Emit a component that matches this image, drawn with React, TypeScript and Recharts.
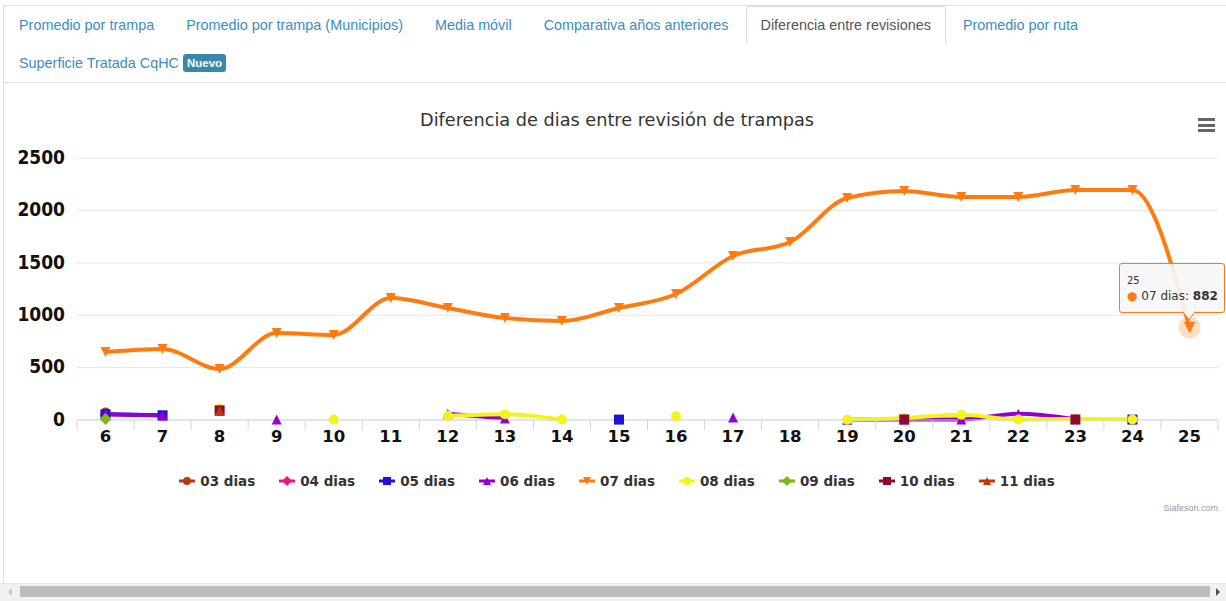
import React from 'react';
import { LineChart, Line, XAxis, YAxis, CartesianGrid, Tooltip } from 'recharts';

// Categories (day numbers on the x axis)
const categories = ['6', '7', '8', '9', '10', '11', '12', '13', '14', '15', '16', '17', '18', '19', '20', '21', '22', '23', '24', '25'];

const seriesNames = ['03 dias', '04 dias', '05 dias', '06 dias', '07 dias', '08 dias', '09 dias', '10 dias', '11 dias'];
const seriesColors = ['#b83a10', '#e8178a', '#2010d8', '#9400d3', '#ff7b0f', '#f4f41a', '#7fb41a', '#8b0a2e', '#c0390b'];
const seriesShapes = ['circle', 'diamond', 'square', 'triangle', 'triangle-down', 'circle', 'diamond', 'square', 'triangle'];

// Values per series (null = no point that day)
const dias03 = [72, null, null, null, null, null, null, null, null, null, null, null, null, null, null, null, null, null, null, null];
const dias04 = [48, null, null, null, null, null, null, null, null, null, null, null, null, null, null, null, null, null, null, null];
const dias05 = [55, 45, null, null, null, null, null, null, null, 4, null, null, null, null, null, null, null, null, 4, null];
const dias06 = [55, 42, null, 5, null, null, 60, 15, null, null, null, 25, null, 3, 5, 5, 60, 8, null, null];
const dias07 = [649, 677, 487, 830, 811, 1164, 1069, 973, 945, 1069, 1202, 1565, 1698, 2118, 2185, 2128, 2128, 2195, 2195, 882];
const dias08 = [null, null, 110, null, 4, null, 40, 55, 4, null, 35, null, null, 3, 20, 50, 4, 10, 5, null];
const dias09 = [10, null, null, null, null, null, null, null, null, null, null, null, null, null, null, null, null, null, null, null];
const dias10 = [null, null, 92, null, null, null, null, null, null, null, null, null, null, null, 5, null, null, 5, null, null];
const dias11 = [null, null, 85, null, null, null, null, null, null, null, null, null, null, null, null, null, null, null, null, null];

const seriesValues = [dias03, dias04, dias05, dias06, dias07, dias08, dias09, dias10, dias11];
const yTicks = [0, 500, 1000, 1500, 2000, 2500];

const tabs = ['Promedio por trampa', 'Promedio por trampa (Municipios)', 'Media móvil', 'Comparativa años anteriores', 'Diferencia entre revisiones', 'Promedio por ruta', 'Superficie Tratada CqHC'];
const activeTab = 4;

const data = categories.map((day, i) => {
    const row: any = { day };
    seriesNames.forEach((name, s) => {
        row[name] = seriesValues[s][i];
    });
    return row;
});

// layout
const CHART_W = 1226;
const CHART_H = 440;
const PLOT_LEFT = 77;
const PLOT_RIGHT = 1218;
const X_PAD = 28.5;
const STEP = (PLOT_RIGHT - PLOT_LEFT - 2 * X_PAD) / (categories.length - 1);
const TICK_SIZE = 10;
const TICK_MARGIN = 4;

const FONT = "'DejaVu Sans', Verdana, sans-serif";

const Marker = ({ shape, cx, cy, r, color }: any) => {
    switch (shape) {
        case 'circle':
            return <circle cx={cx} cy={cy} r={r} fill={color} />;
        case 'square':
            return <rect x={cx - r} y={cy - r} width={2 * r} height={2 * r} fill={color} />;
        case 'diamond':
            return <path d={`M${cx} ${cy - r - 1}L${cx + r + 1} ${cy}L${cx} ${cy + r + 1}L${cx - r - 1} ${cy}Z`} fill={color} />;
        case 'triangle':
            return <path d={`M${cx} ${cy - r}L${cx + r} ${cy + r}L${cx - r} ${cy + r}Z`} fill={color} />;
        default:
            return <path d={`M${cx - r} ${cy - r}L${cx + r} ${cy - r}L${cx} ${cy + r}Z`} fill={color} />;
    }
};

const dotFor = (s: number) => (p: any) => {
    const key = `dot-${s}-${p.index}`;
    if (p.value == null || p.cx == null || p.cy == null || isNaN(p.cy)) return <g key={key} />;
    return (
        <g key={key}>
            <Marker shape={seriesShapes[s]} cx={p.cx} cy={p.cy} r={5} color={seriesColors[s]} />
        </g>
    );
};

const activeDotFor = (s: number) => (p: any) => {
    if (p.value == null || p.cy == null || isNaN(p.cy)) return <g />;
    return (
        <g>
            <circle cx={p.cx} cy={p.cy} r={11} fill={seriesColors[s]} fillOpacity={0.25} />
            <Marker shape={seriesShapes[s]} cx={p.cx} cy={p.cy} r={5.5} color={seriesColors[s]} />
        </g>
    );
};

const XTick = (props: any) => {
    const { x, y, payload, index } = props;
    const axisY = y - TICK_SIZE - TICK_MARGIN;
    const last = index === categories.length - 1;
    return (
        <g>
            <line x1={x - STEP / 2} x2={x - STEP / 2} y1={axisY} y2={axisY + TICK_SIZE} stroke="#ccd6eb" />
            {last && <line x1={x + STEP / 2} x2={x + STEP / 2} y1={axisY} y2={axisY + TICK_SIZE} stroke="#ccd6eb" />}
            <text x={x} y={axisY + 22} textAnchor="middle" fontFamily={FONT} fontWeight="bold" fontSize={16.5} fill="#111">
                {payload.value}
            </text>
        </g>
    );
};

const YTick = (props: any) => {
    const { x, y, payload } = props;
    return (
        <text x={x} y={y} dy="0.3em" textAnchor="end" fontFamily="'DejaVu Sans Condensed', 'DejaVu Sans', sans-serif" fontWeight="bold" fontSize={19} fill="#111">
            {payload.value}
        </text>
    );
};

const TipBox = ({ active, payload, label }: any) => {
    if (!active || !payload) return null;
    const items = payload.filter((p: any) => p.value != null);
    if (!items.length) return null;
    const c = items[0].color;
    return (
        <div style={{ position: 'relative', width: 104, height: 48, border: `1px solid ${c}`, borderRadius: 3, background: 'rgba(247,247,247,0.9)', fontFamily: FONT, color: '#333', boxSizing: 'content-box' }}>
            <div style={{ position: 'absolute', left: 7, top: 11, fontSize: 10 }}>{label}</div>
            {items.map((it: any) => (
                <div key={it.name} style={{ position: 'absolute', left: 7, top: 25, fontSize: 12, whiteSpace: 'nowrap' }}>
                    <span style={{ color: it.color }}>●</span> {it.name}: <b>{it.value}</b>
                </div>
            ))}
            <svg width={14} height={10} style={{ position: 'absolute', left: 62, top: 47, overflow: 'visible' }}>
                <path d="M0.5 0.5 L7 8.5 L13.5 0.5" fill="rgb(247,247,247)" stroke={c} />
            </svg>
        </div>
    );
};

const LegendBar = () => (
    <div style={{ position: 'absolute', top: 472, left: 4, width: CHART_W, display: 'flex', justifyContent: 'center', gap: 24, fontFamily: FONT, fontWeight: 'bold', fontSize: 13.5, color: '#333' }}>
        {seriesNames.map((n, s) => (
            <div key={n} style={{ display: 'flex', alignItems: 'center', height: 18 }}>
                <svg width={16} height={12} style={{ marginRight: 5 }}>
                    <line x1={0} x2={16} y1={6} y2={6} stroke={seriesColors[s]} strokeWidth={3} />
                    <Marker shape={seriesShapes[s]} cx={8} cy={6} r={4} color={seriesColors[s]} />
                </svg>
                <span>{n}</span>
            </div>
        ))}
    </div>
);

const App = () => {
    return (
        <div style={{ position: 'relative', width: 1226, height: 601, background: '#fff', overflow: 'hidden' }}>
            <style>{'body{margin:0;overflow:hidden}'}</style>

            {/* outer frame + tabs */}
            <div style={{ position: 'absolute', left: 3, top: 5, width: 1223, height: 578, borderTop: '1px solid #ddd', borderLeft: '1px solid #ddd' }}>
                <ul style={{ listStyle: 'none', margin: 0, padding: 0, display: 'flex', flexWrap: 'wrap', borderBottom: '1px solid #ddd', fontFamily: "'Liberation Sans', Arial, sans-serif", fontSize: 14.4 }}>
                    {tabs.map((t, i) => (
                        <li key={t} style={{ marginRight: 2 }}>
                            <a
                                style={{
                                    display: 'flex',
                                    alignItems: 'center',
                                    padding: '8px 14px',
                                    lineHeight: '20px',
                                    border: '1px solid transparent',
                                    borderColor: i === activeTab ? '#ddd #ddd transparent' : 'transparent',
                                    borderRadius: '4px 4px 0 0',
                                    color: i === activeTab ? '#555' : '#3c8dbc',
                                    background: '#fff',
                                    textDecoration: 'none',
                                }}
                            >
                                {t}
                                {i === tabs.length - 1 && (
                                    <span style={{ marginLeft: 4, background: '#3a87ad', color: '#fff', fontWeight: 'bold', fontSize: 11.5, lineHeight: '14px', padding: '2px 4px', borderRadius: 3 }}>Nuevo</span>
                                )}
                            </a>
                        </li>
                    ))}
                </ul>
            </div>

            {/* title, menu, credits */}
            <div style={{ position: 'absolute', top: 110, left: 0, width: 1234, textAlign: 'center', fontFamily: FONT, fontSize: 17.7, color: '#333' }}>
                Diferencia de dias entre revisión de trampas
            </div>
            <div style={{ position: 'absolute', left: 1198, top: 118 }}>
                {[0, 1, 2].map((k) => (
                    <div key={k} style={{ width: 17, height: 3, background: '#666', marginBottom: 2.5 }} />
                ))}
            </div>
            <div style={{ position: 'absolute', right: 8, top: 503, fontFamily: "'Liberation Sans', Arial, sans-serif", fontSize: 9, color: '#999' }}>Siafeson.com</div>

            <div style={{ position: 'absolute', left: 0, top: 83 }}>
                <LineChart width={CHART_W} height={CHART_H} data={data} margin={{ top: 75, right: CHART_W - PLOT_RIGHT, bottom: 73, left: 0 }}>
                    <CartesianGrid vertical={false} stroke="#e6e6e6" />
                    <XAxis
                        dataKey="day"
                        height={30}
                        padding={{ left: X_PAD, right: X_PAD }}
                        interval={0}
                        axisLine={{ stroke: '#ccd6eb' }}
                        tickLine={false}
                        tickSize={TICK_SIZE}
                        tickMargin={TICK_MARGIN}
                        tick={<XTick />}
                    />
                    <YAxis
                        width={PLOT_LEFT}
                        domain={[0, 2500]}
                        ticks={yTicks}
                        axisLine={false}
                        tickLine={false}
                        tickMargin={6}
                        tick={<YTick />}
                    />
                    <Tooltip
                        defaultIndex={19}
                        cursor={false}
                        position={{ x: 1119, y: 180 }}
                        isAnimationActive={false}
                        content={<TipBox />}
                        wrapperStyle={{ outline: 'none', zIndex: 5 }}
                    />
                    {seriesNames.map((n, s) => (
                        <Line
                            key={n}
                            type="monotone"
                            dataKey={n}
                            name={n}
                            stroke={seriesColors[s]}
                            strokeWidth={4}
                            dot={dotFor(s)}
                            activeDot={n === '07 dias' ? activeDotFor(s) : false}
                            isAnimationActive={false}
                        />
                    ))}
                </LineChart>
            </div>

            <LegendBar />

            {/* bottom scrollbar */}
            <div style={{ position: 'absolute', left: 0, top: 583, width: 1226, height: 18, background: '#f1f1f1', borderTop: '1px solid #e6e6e6' }}>
                <div style={{ position: 'absolute', left: 20, top: 2, width: 1190, height: 11, background: '#bcbcbc' }} />
                <div style={{ position: 'absolute', left: 8, top: 4, width: 0, height: 0, borderTop: '4px solid transparent', borderBottom: '4px solid transparent', borderRight: '4px solid #c8c8c8' }} />
                <div style={{ position: 'absolute', left: 1216, top: 4, width: 0, height: 0, borderTop: '4px solid transparent', borderBottom: '4px solid transparent', borderLeft: '4px solid #505050' }} />
            </div>
        </div>
    );
};

export default App;
